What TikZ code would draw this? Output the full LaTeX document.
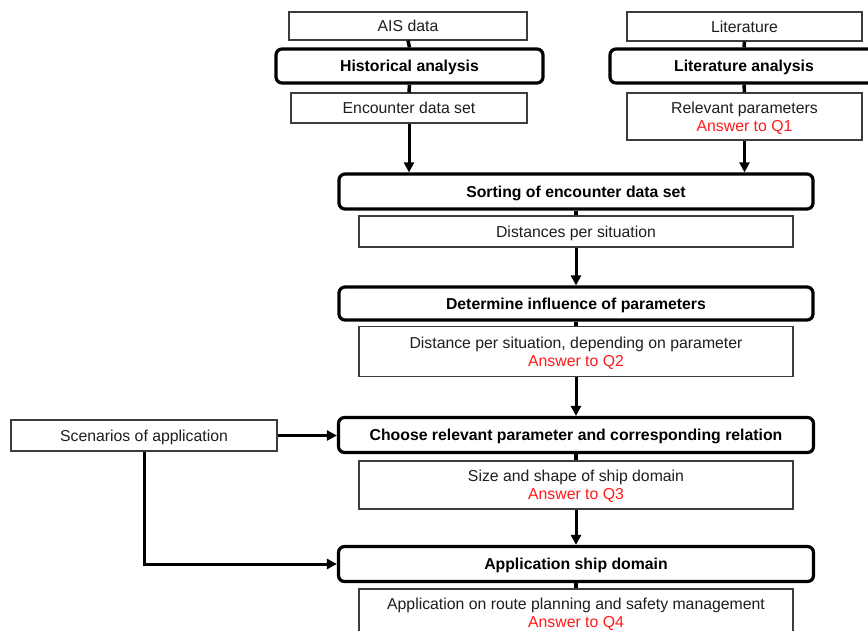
\documentclass[tikz,border=0pt]{standalone}
\usepackage{fontspec}
\setmainfont{Liberation Sans}
\usetikzlibrary{arrows.meta,calc}
\definecolor{boxline}{HTML}{3C3C3C}
\definecolor{txt}{HTML}{1E1E1E}
\definecolor{answer}{HTML}{FF1A1A}
\tikzset{
  databox/.style={draw=boxline, line width=1.1pt, fill=white, rectangle,
    inner sep=0pt, text=txt, align=center, text depth=0pt,
    font=\fontsize{15.8}{18}\selectfont},
  stepbox/.style={draw=black, line width=3.2pt, fill=white, rectangle,
    rounded corners=6pt, inner sep=0pt, text=black, text depth=0pt,
    font=\fontsize{15.8}{18}\selectfont\bfseries},
  joint/.style={line width=3.5pt},
  flow/.style={line width=3pt, -{Triangle[width=10pt,length=10pt]}},
}
\newcommand{\ans}[1]{\textcolor{answer}{#1}}
\begin{document}
\begin{tikzpicture}[x=1pt,y=-1pt]
  \useasboundingbox (0,0) rectangle (868,630);
  \clip (0,0) rectangle (868,630);

  % left input branch
  \node[databox, minimum width=238pt, minimum height=28pt] (ais) at (408,26) {AIS data};
  \node[stepbox, minimum width=267pt, minimum height=34pt] (hist) at (409.5,66) {Historical analysis};
  \node[databox, minimum width=236pt, minimum height=30pt] (enc) at (409,108) {Encounter data set};

  % right input branch
  \node[databox, minimum width=235pt, minimum height=29pt] (lit) at (744.5,26.5) {Literature};
  \node[stepbox, minimum width=268pt, minimum height=34pt] (litan) at (744,66) {Literature analysis};
  \node[databox, minimum width=235pt, minimum height=47pt] (relp) at (744.5,116.5)
    {Relevant parameters\\\ans{Answer to Q1}};

  % main chain
  \node[stepbox, minimum width=474pt, minimum height=35pt] (sort) at (576,191.5) {Sorting of encounter data set};
  \node[databox, minimum width=434pt, minimum height=31pt] (dist) at (576,231.5) {Distances per situation};
  \node[stepbox, minimum width=474pt, minimum height=33pt] (det) at (576,303.5) {Determine influence of parameters};
  \node[databox, minimum width=434pt, minimum height=50pt] (distp) at (576,351.5)
    {Distance per situation, depending on parameter\\\ans{Answer to Q2}};
  \node[stepbox, minimum width=475pt, minimum height=35pt] (choose) at (576,435) {Choose relevant parameter and corresponding relation};
  \node[databox, minimum width=434pt, minimum height=48pt] (size) at (576,485)
    {Size and shape of ship domain\\\ans{Answer to Q3}};
  \node[stepbox, minimum width=475pt, minimum height=35pt] (appl) at (576,564) {Application ship domain};
  \node[databox, minimum width=434pt, minimum height=48pt] (route) at (576,613)
    {Application on route planning and safety management\\\ans{Answer to Q4}};

  % side input
  \node[databox, minimum width=266pt, minimum height=31pt] (scen) at (144,435.5) {Scenarios of application};

  % connectors
  \draw[joint] (ais.south) -- (hist.north);
  \draw[joint] (hist.south) -- (enc.north);
  \draw[joint] (lit.south) -- (litan.north);
  \draw[joint] (litan.south) -- (relp.north);
  \draw[flow] (enc.south) -- (enc.south |- sort.north);
  \draw[flow] (relp.south) -- (relp.south |- sort.north);
  \draw[joint] (sort.south) -- (dist.north);
  \draw[flow] (dist.south) -- (det.north);
  \draw[joint] (det.south) -- (distp.north);
  \draw[flow] (distp.south) -- (choose.north);
  \draw[joint] (choose.south) -- (size.north);
  \draw[flow] (size.south) -- (appl.north);
  \draw[joint] (appl.south) -- (route.north);
  \draw[flow] (scen.east) -- (scen.east -| choose.west);
  \draw[flow] (scen.south) |- (appl.west);
\end{tikzpicture}
\end{document}
